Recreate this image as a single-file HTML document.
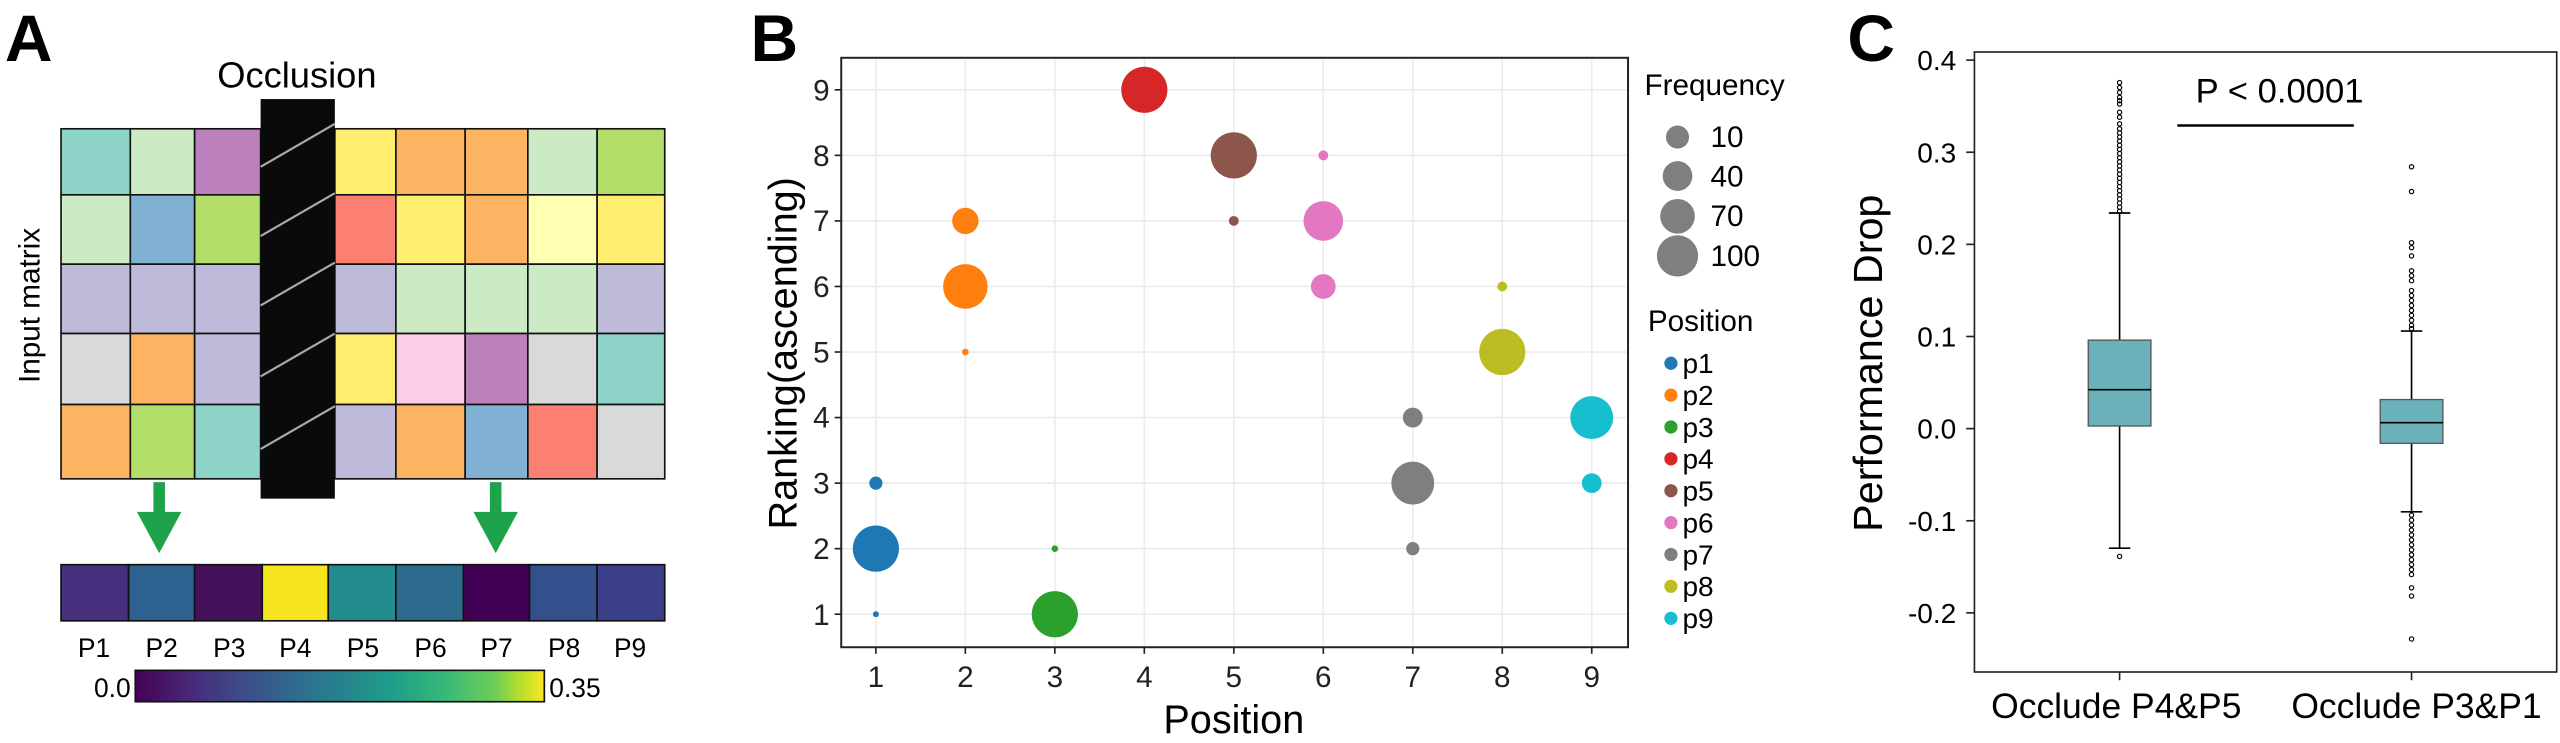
<!DOCTYPE html>
<html><head><meta charset="utf-8"><style>html,body{margin:0;padding:0;background:#fff;overflow:hidden}svg{display:block}text{font-family:"Liberation Sans",Arial,sans-serif}</style></head>
<body>
<svg width="2560" height="743" viewBox="0 0 1552 450" preserveAspectRatio="none" xmlns="http://www.w3.org/2000/svg">
<!-- Panel A -->
<text x="3" y="37" font-size="40" font-weight="bold">A</text>
<text x="180" y="53" font-size="22" text-anchor="middle">Occlusion</text>
<text transform="translate(24,185) rotate(-90)" font-size="18" text-anchor="middle">Input matrix</text>
<g stroke="#111" stroke-width="1">
<rect x="37" y="78" width="42" height="40" fill="#8dd3c7"/><rect x="79" y="78" width="39" height="40" fill="#ccebc5"/><rect x="118" y="78" width="40" height="40" fill="#bc80bd"/>
<rect x="203" y="78" width="37" height="40" fill="#ffed6f"/><rect x="240" y="78" width="42" height="40" fill="#fdb462"/><rect x="282" y="78" width="38" height="40" fill="#fdb462"/><rect x="320" y="78" width="42" height="40" fill="#ccebc5"/><rect x="362" y="78" width="41" height="40" fill="#b3de69"/>
<rect x="37" y="118" width="42" height="42" fill="#ccebc5"/><rect x="79" y="118" width="39" height="42" fill="#80b1d3"/><rect x="118" y="118" width="40" height="42" fill="#b3de69"/>
<rect x="203" y="118" width="37" height="42" fill="#fb8072"/><rect x="240" y="118" width="42" height="42" fill="#ffed6f"/><rect x="282" y="118" width="38" height="42" fill="#fdb462"/><rect x="320" y="118" width="42" height="42" fill="#ffffb3"/><rect x="362" y="118" width="41" height="42" fill="#ffed6f"/>
<rect x="37" y="160" width="42" height="42" fill="#bebada"/><rect x="79" y="160" width="39" height="42" fill="#bebada"/><rect x="118" y="160" width="40" height="42" fill="#bebada"/>
<rect x="203" y="160" width="37" height="42" fill="#bebada"/><rect x="240" y="160" width="42" height="42" fill="#ccebc5"/><rect x="282" y="160" width="38" height="42" fill="#ccebc5"/><rect x="320" y="160" width="42" height="42" fill="#ccebc5"/><rect x="362" y="160" width="41" height="42" fill="#bebada"/>
<rect x="37" y="202" width="42" height="43" fill="#d9d9d9"/><rect x="79" y="202" width="39" height="43" fill="#fdb462"/><rect x="118" y="202" width="40" height="43" fill="#bebada"/>
<rect x="203" y="202" width="37" height="43" fill="#ffed6f"/><rect x="240" y="202" width="42" height="43" fill="#fccde5"/><rect x="282" y="202" width="38" height="43" fill="#bc80bd"/><rect x="320" y="202" width="42" height="43" fill="#d9d9d9"/><rect x="362" y="202" width="41" height="43" fill="#8dd3c7"/>
<rect x="37" y="245" width="42" height="45" fill="#fdb462"/><rect x="79" y="245" width="39" height="45" fill="#b3de69"/><rect x="118" y="245" width="40" height="45" fill="#8dd3c7"/>
<rect x="203" y="245" width="37" height="45" fill="#bebada"/><rect x="240" y="245" width="42" height="45" fill="#fdb462"/><rect x="282" y="245" width="38" height="45" fill="#80b1d3"/><rect x="320" y="245" width="42" height="45" fill="#fb8072"/><rect x="362" y="245" width="41" height="45" fill="#d9d9d9"/>
</g>
<rect x="158" y="60" width="45" height="242" fill="#0a0a0a"/>
<g stroke="#aaa" stroke-width="1.3">
<line x1="158" y1="101" x2="203" y2="75"/><line x1="158" y1="143" x2="203" y2="117"/><line x1="158" y1="185" x2="203" y2="159"/><line x1="158" y1="228" x2="203" y2="202"/><line x1="158" y1="272" x2="203" y2="246"/>
</g>
<g fill="#1fa34a"><rect x="93" y="292" width="7" height="22"/><polygon points="83,310 110,310 96.5,335"/>
<rect x="297" y="292" width="7" height="22"/><polygon points="287,310 314,310 300.5,335"/></g>
<g stroke="#111" stroke-width="1">
<rect x="37" y="342" width="41" height="34" fill="#46307e"/><rect x="78" y="342" width="40" height="34" fill="#2d6290"/><rect x="118" y="342" width="41" height="34" fill="#45105a"/><rect x="159" y="342" width="40" height="34" fill="#f6e51f"/><rect x="199" y="342" width="41" height="34" fill="#228b8d"/><rect x="240" y="342" width="41" height="34" fill="#2c6b8e"/><rect x="281" y="342" width="40" height="34" fill="#420154"/><rect x="321" y="342" width="41" height="34" fill="#33508c"/><rect x="362" y="342" width="41" height="34" fill="#3b3e88"/>
</g>
<g font-size="16" text-anchor="middle">
<text x="57" y="398">P1</text><text x="98" y="398">P2</text><text x="139" y="398">P3</text><text x="179" y="398">P4</text><text x="220" y="398">P5</text><text x="261" y="398">P6</text><text x="301" y="398">P7</text><text x="342" y="398">P8</text><text x="382" y="398">P9</text>
</g>
<defs><linearGradient id="vir" x1="0" x2="1" y1="0" y2="0">
<stop offset="0" stop-color="#440154"/><stop offset="0.13" stop-color="#482878"/><stop offset="0.25" stop-color="#3e4989"/><stop offset="0.38" stop-color="#31688e"/><stop offset="0.5" stop-color="#26828e"/><stop offset="0.63" stop-color="#1f9e89"/><stop offset="0.75" stop-color="#35b779"/><stop offset="0.88" stop-color="#6ece58"/><stop offset="0.94" stop-color="#b5de2b"/><stop offset="1" stop-color="#fde725"/></linearGradient></defs>
<rect x="82" y="406" width="248" height="19" fill="url(#vir)" stroke="#111" stroke-width="1"/>
<text x="57" y="422" font-size="16">0.0</text><text x="333" y="422" font-size="16">0.35</text>

<!-- Panel B -->
<text x="455" y="37" font-size="40" font-weight="bold">B</text>
<g stroke="#ececec" stroke-width="1">
<line x1="510" y1="54.4" x2="987" y2="54.4"/><line x1="510" y1="94.1" x2="987" y2="94.1"/><line x1="510" y1="133.8" x2="987" y2="133.8"/><line x1="510" y1="173.5" x2="987" y2="173.5"/><line x1="510" y1="213.2" x2="987" y2="213.2"/><line x1="510" y1="252.9" x2="987" y2="252.9"/><line x1="510" y1="292.6" x2="987" y2="292.6"/><line x1="510" y1="332.3" x2="987" y2="332.3"/><line x1="510" y1="372" x2="987" y2="372"/>
<line x1="531" y1="35" x2="531" y2="392"/><line x1="585.25" y1="35" x2="585.25" y2="392"/><line x1="639.5" y1="35" x2="639.5" y2="392"/><line x1="693.75" y1="35" x2="693.75" y2="392"/><line x1="748" y1="35" x2="748" y2="392"/><line x1="802.25" y1="35" x2="802.25" y2="392"/><line x1="856.5" y1="35" x2="856.5" y2="392"/><line x1="910.75" y1="35" x2="910.75" y2="392"/><line x1="965" y1="35" x2="965" y2="392"/>
</g>
<rect x="510" y="35" width="477" height="357" fill="none" stroke="#222" stroke-width="1.2"/>
<g stroke="#222"><line x1="506" y1="54.4" x2="510" y2="54.4"/><line x1="506" y1="94.1" x2="510" y2="94.1"/><line x1="506" y1="133.8" x2="510" y2="133.8"/><line x1="506" y1="173.5" x2="510" y2="173.5"/><line x1="506" y1="213.2" x2="510" y2="213.2"/><line x1="506" y1="252.9" x2="510" y2="252.9"/><line x1="506" y1="292.6" x2="510" y2="292.6"/><line x1="506" y1="332.3" x2="510" y2="332.3"/><line x1="506" y1="372" x2="510" y2="372"/>
<line x1="531" y1="392" x2="531" y2="396"/><line x1="585.25" y1="392" x2="585.25" y2="396"/><line x1="639.5" y1="392" x2="639.5" y2="396"/><line x1="693.75" y1="392" x2="693.75" y2="396"/><line x1="748" y1="392" x2="748" y2="396"/><line x1="802.25" y1="392" x2="802.25" y2="396"/><line x1="856.5" y1="392" x2="856.5" y2="396"/><line x1="910.75" y1="392" x2="910.75" y2="396"/><line x1="965" y1="392" x2="965" y2="396"/></g>
<g font-size="18" fill="#222" text-anchor="end">
<text x="503" y="61">9</text><text x="503" y="100.5">8</text><text x="503" y="140">7</text><text x="503" y="180">6</text><text x="503" y="219.5">5</text><text x="503" y="259">4</text><text x="503" y="299">3</text><text x="503" y="338.5">2</text><text x="503" y="378.5">1</text></g>
<g font-size="18" fill="#222" text-anchor="middle">
<text x="531" y="416">1</text><text x="585.25" y="416">2</text><text x="639.5" y="416">3</text><text x="693.75" y="416">4</text><text x="748" y="416">5</text><text x="802.25" y="416">6</text><text x="856.5" y="416">7</text><text x="910.75" y="416">8</text><text x="965" y="416">9</text></g>
<text x="748" y="444" font-size="24" text-anchor="middle">Position</text>
<text transform="translate(483,214) rotate(-90)" font-size="24" text-anchor="middle">Ranking(ascending)</text>
<g>
<circle cx="531" cy="332.3" r="14" fill="#1f77b4"/><circle cx="531" cy="292.6" r="4" fill="#1f77b4"/><circle cx="531" cy="372" r="1.8" fill="#1f77b4"/>
<circle cx="585.25" cy="173.5" r="13.5" fill="#ff7f0e"/><circle cx="585.25" cy="133.8" r="8" fill="#ff7f0e"/><circle cx="585.25" cy="213.2" r="2" fill="#ff7f0e"/>
<circle cx="639.5" cy="372" r="14" fill="#2ca02c"/><circle cx="639.5" cy="332.3" r="2" fill="#2ca02c"/>
<circle cx="693.75" cy="54.4" r="14" fill="#d62728"/>
<circle cx="748" cy="94.1" r="14" fill="#8c564b"/><circle cx="748" cy="133.8" r="3" fill="#8c564b"/>
<circle cx="802.25" cy="133.8" r="12" fill="#e377c2"/><circle cx="802.25" cy="173.5" r="7.5" fill="#e377c2"/><circle cx="802.25" cy="94.1" r="3" fill="#e377c2"/>
<circle cx="856.5" cy="292.6" r="13" fill="#7f7f7f"/><circle cx="856.5" cy="252.9" r="6" fill="#7f7f7f"/><circle cx="856.5" cy="332.3" r="4" fill="#7f7f7f"/>
<circle cx="910.75" cy="213.2" r="14" fill="#bcbd22"/><circle cx="910.75" cy="173.5" r="3" fill="#bcbd22"/>
<circle cx="965" cy="252.9" r="13" fill="#17becf"/><circle cx="965" cy="292.6" r="6" fill="#17becf"/>
</g>
<text x="997" y="57.5" font-size="18">Frequency</text>
<g fill="#7f7f7f"><circle cx="1017" cy="83" r="7"/><circle cx="1017" cy="106.6" r="9"/><circle cx="1017" cy="131" r="10.5"/><circle cx="1017" cy="155" r="12.5"/></g>
<g font-size="18"><text x="1037" y="89">10</text><text x="1037" y="113">40</text><text x="1037" y="137">70</text><text x="1037" y="161">100</text></g>
<text x="999" y="200.6" font-size="18">Position</text>
<g><circle cx="1013" cy="220" r="4" fill="#1f77b4"/><circle cx="1013" cy="239.3" r="4" fill="#ff7f0e"/><circle cx="1013" cy="258.6" r="4" fill="#2ca02c"/><circle cx="1013" cy="277.9" r="4" fill="#d62728"/><circle cx="1013" cy="297.2" r="4" fill="#8c564b"/><circle cx="1013" cy="316.5" r="4" fill="#e377c2"/><circle cx="1013" cy="335.8" r="4" fill="#7f7f7f"/><circle cx="1013" cy="355.1" r="4" fill="#bcbd22"/><circle cx="1013" cy="374.5" r="4" fill="#17becf"/></g>
<g font-size="17"><text x="1020" y="226">p1</text><text x="1020" y="245.3">p2</text><text x="1020" y="264.6">p3</text><text x="1020" y="283.9">p4</text><text x="1020" y="303.2">p5</text><text x="1020" y="322.5">p6</text><text x="1020" y="341.8">p7</text><text x="1020" y="361.1">p8</text><text x="1020" y="380.5">p9</text></g>

<!-- Panel C -->
<text x="1120" y="37" font-size="40" font-weight="bold">C</text>
<rect x="1197" y="31.5" width="353" height="375.5" fill="none" stroke="#222" stroke-width="1"/>
<g stroke="#222"><line x1="1192" y1="36.4" x2="1197" y2="36.4"/><line x1="1192" y1="92.2" x2="1197" y2="92.2"/><line x1="1192" y1="148" x2="1197" y2="148"/><line x1="1192" y1="203.8" x2="1197" y2="203.8"/><line x1="1192" y1="259.6" x2="1197" y2="259.6"/><line x1="1192" y1="315.4" x2="1197" y2="315.4"/><line x1="1192" y1="371.2" x2="1197" y2="371.2"/>
<line x1="1285" y1="407" x2="1285" y2="412"/><line x1="1462" y1="407" x2="1462" y2="412"/></g>
<g font-size="17" text-anchor="end"><text x="1186" y="42.5">0.4</text><text x="1186" y="98.3">0.3</text><text x="1186" y="154">0.2</text><text x="1186" y="210">0.1</text><text x="1186" y="265.7">0.0</text><text x="1186" y="321.5">-0.1</text><text x="1186" y="377.3">-0.2</text></g>
<text transform="translate(1141,220) rotate(-90)" font-size="25" text-anchor="middle">Performance Drop</text>
<g font-size="21.5" text-anchor="middle"><text x="1283" y="435">Occlude P4&amp;P5</text><text x="1465" y="435">Occlude P3&amp;P1</text></g>
<text x="1382" y="62" font-size="21" text-anchor="middle">P &lt; 0.0001</text>
<line x1="1320" y1="76" x2="1427" y2="76" stroke="#000" stroke-width="1.5"/>
<g stroke="#000" stroke-width="1">
<line x1="1285" y1="129" x2="1285" y2="206"/><line x1="1285" y1="258" x2="1285" y2="332"/><line x1="1278.5" y1="129" x2="1291.5" y2="129"/><line x1="1278.5" y1="332" x2="1291.5" y2="332"/>
<line x1="1462" y1="200.5" x2="1462" y2="242"/><line x1="1462" y1="268.5" x2="1462" y2="310"/><line x1="1455.5" y1="200.5" x2="1468.5" y2="200.5"/><line x1="1455.5" y1="310" x2="1468.5" y2="310"/>
</g>
<rect x="1266" y="206" width="38" height="52" fill="#6ab1b9" stroke="#555" stroke-width="0.8"/>
<line x1="1266" y1="236" x2="1304" y2="236" stroke="#000" stroke-width="1"/>
<rect x="1443" y="242" width="38" height="26.5" fill="#6ab1b9" stroke="#555" stroke-width="0.8"/>
<line x1="1443" y1="256" x2="1481" y2="256" stroke="#000" stroke-width="1"/>
<g fill="none" stroke="#000" stroke-width="0.7">
<circle cx="1285" cy="50" r="1.3"/><circle cx="1285" cy="53" r="1.3"/><circle cx="1285" cy="56" r="1.3"/><circle cx="1285" cy="59" r="1.3"/><circle cx="1285" cy="61" r="1.3"/><circle cx="1285" cy="63" r="1.3"/><circle cx="1285" cy="68" r="1.3"/><circle cx="1285" cy="71" r="1.3"/><circle cx="1285" cy="75" r="1.3"/>
<circle cx="1285" cy="78" r="1.3"/><circle cx="1285" cy="80.5" r="1.3"/><circle cx="1285" cy="83" r="1.3"/><circle cx="1285" cy="85.5" r="1.3"/><circle cx="1285" cy="88" r="1.3"/><circle cx="1285" cy="90.5" r="1.3"/><circle cx="1285" cy="93" r="1.3"/><circle cx="1285" cy="95.5" r="1.3"/><circle cx="1285" cy="98" r="1.3"/><circle cx="1285" cy="100.5" r="1.3"/><circle cx="1285" cy="103" r="1.3"/><circle cx="1285" cy="105.5" r="1.3"/><circle cx="1285" cy="108" r="1.3"/><circle cx="1285" cy="110.5" r="1.3"/><circle cx="1285" cy="113" r="1.3"/><circle cx="1285" cy="115.5" r="1.3"/><circle cx="1285" cy="118" r="1.3"/><circle cx="1285" cy="120.5" r="1.3"/><circle cx="1285" cy="123" r="1.3"/><circle cx="1285" cy="125.5" r="1.3"/><circle cx="1285" cy="128" r="1.3"/>
<circle cx="1285" cy="337" r="1.3"/>
<circle cx="1462" cy="101" r="1.3"/><circle cx="1462" cy="116" r="1.3"/><circle cx="1462" cy="147" r="1.3"/><circle cx="1462" cy="150" r="1.3"/><circle cx="1462" cy="155" r="1.3"/><circle cx="1462" cy="164" r="1.3"/><circle cx="1462" cy="167" r="1.3"/><circle cx="1462" cy="170" r="1.3"/><circle cx="1462" cy="176" r="1.3"/><circle cx="1462" cy="179" r="1.3"/><circle cx="1462" cy="182" r="1.3"/><circle cx="1462" cy="185" r="1.3"/><circle cx="1462" cy="188" r="1.3"/><circle cx="1462" cy="191" r="1.3"/><circle cx="1462" cy="194" r="1.3"/><circle cx="1462" cy="197" r="1.3"/><circle cx="1462" cy="199" r="1.3"/>
<circle cx="1462" cy="312" r="1.3"/><circle cx="1462" cy="315" r="1.3"/><circle cx="1462" cy="318" r="1.3"/><circle cx="1462" cy="321" r="1.3"/><circle cx="1462" cy="324" r="1.3"/><circle cx="1462" cy="327" r="1.3"/><circle cx="1462" cy="330" r="1.3"/><circle cx="1462" cy="333" r="1.3"/><circle cx="1462" cy="336" r="1.3"/><circle cx="1462" cy="339" r="1.3"/><circle cx="1462" cy="342" r="1.3"/><circle cx="1462" cy="345" r="1.3"/><circle cx="1462" cy="348" r="1.3"/><circle cx="1462" cy="356" r="1.3"/><circle cx="1462" cy="361" r="1.3"/><circle cx="1462" cy="387" r="1.3"/>
</g>
</svg>
</body></html>
